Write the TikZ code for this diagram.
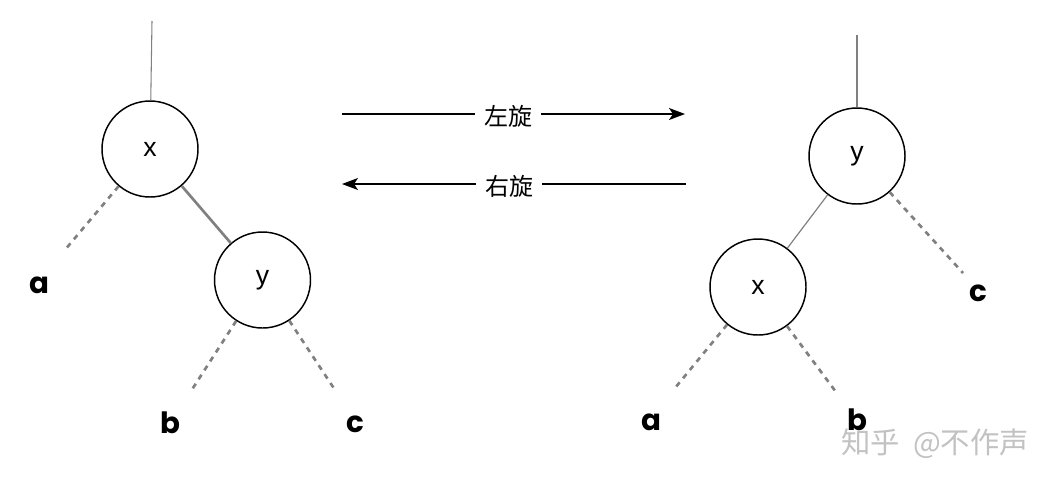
\documentclass[tikz,border=0pt]{standalone}
\usepackage{fontspec}
\setmainfont{Liberation Sans}
\newfontfamily\cjk{Noto Sans CJK SC}
\newfontfamily\pop{Poppins}
\usetikzlibrary{arrows.meta}
\begin{document}
\begin{tikzpicture}[x=0.75pt,y=-0.75pt,
  nd/.style={circle,draw,line width=1.1pt,minimum size=72pt,inner sep=0pt,font=\fontsize{20}{24}\selectfont},
  stem/.style={draw=black!50,line width=0.8pt},
  edg/.style={draw=black!50},
  dsh/.style={draw=black!50,line width=2pt,dash pattern=on 4pt off 4pt},
  leaf/.style={font=\pop\bfseries\fontsize{22}{26}\selectfont,inner sep=0pt},
  arr/.style={line width=0.9pt,-{Stealth[length=12pt,width=9pt,inset=3pt]}},
  lab/.style={fill=white,font=\cjk\fontsize{18}{22}\selectfont,inner xsep=7pt,inner ysep=2pt}]
\useasboundingbox (0,0) rectangle (1062,490);

% left tree
\node[nd] (x1) at (150,149) {x};
\node[nd] (y1) at (262.5,280) {y};
\coordinate (t1) at (152,21);
\draw[stem] (t1) -- (x1);
\draw[edg,line width=2pt] (x1) -- (y1);
\coordinate (ea1) at (65.7,249);
\coordinate (eb1) at (191.7,390);
\coordinate (ec1) at (335,390);
\draw[dsh] (x1) -- (ea1);
\draw[dsh] (y1) -- (eb1);
\draw[dsh] (y1) -- (ec1);
\node[leaf] (a1) at (39,285) {a};
\node[leaf] (b1) at (170,423) {b};
\node[leaf] (c1) at (355,424) {c};

% arrows
\coordinate (l1s) at (342,114);
\coordinate (l1e) at (685,114);
\draw[arr] (l1s) -- (l1e);
\node[lab] (L1) at (508,116) {左旋};
\coordinate (l2s) at (686,184);
\coordinate (l2e) at (342,184);
\draw[arr] (l2s) -- (l2e);
\node[lab] (L2) at (509,186) {右旋};

% right tree
\node[nd] (y2) at (857,156) {y};
\node[nd] (x2) at (758,287) {x};
\coordinate (t2) at (857,35);
\draw[stem] (t2) -- (y2);
\draw[edg,line width=0.9pt] (y2) -- (x2);
\coordinate (ec2) at (963,273);
\coordinate (ea2) at (675,388);
\coordinate (eb2) at (836,392);
\draw[dsh] (y2) -- (ec2);
\draw[dsh] (x2) -- (ea2);
\draw[dsh] (x2) -- (eb2);
\node[leaf] (c2) at (978,293) {c};
\node[leaf] (a2) at (651,422) {a};
\node[leaf] (b2) at (857,420) {b};

% watermark
\node[font=\cjk\fontsize{22}{26}\selectfont,text=black!24,inner sep=0pt] (wm) at (935,444) {知乎\hspace{0.45em}@不作声};
\end{tikzpicture}
\end{document}
